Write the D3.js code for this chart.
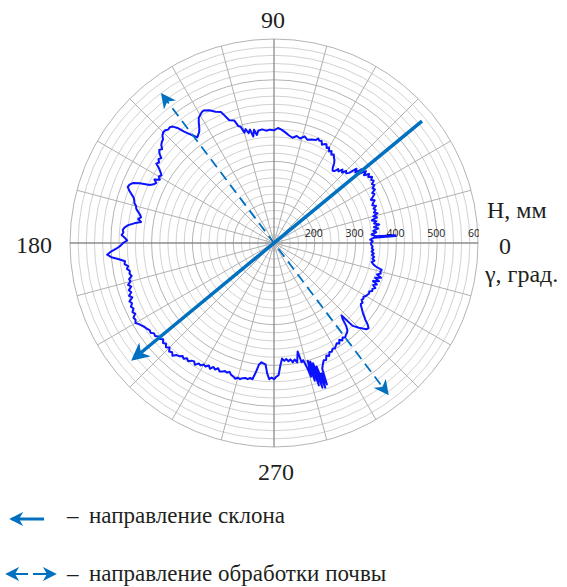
<!DOCTYPE html>
<html>
<head>
<meta charset="utf-8">
<script src="https://cdn.jsdelivr.net/npm/d3@7"></script>
<style>
  body { margin: 0; background: #fff; }
  svg { display: block; }
</style>
</head>
<body>
<div id="chart"></div>
<script>
// угол γ, град. и высота H, мм
const angles = [0,1,2,3,3.3,3.6,3.8,5,6,7,8,9,10,11,12,13,14,15,16,17,18,19,20,21,22,23,24,25,26,27,28,29,30,31,32,33,34,35,36,37,38,39,40,41,42,43,44,45,46,47,48,49,50,51,52,53,54,55,56,57,58,59,60,61,62,63,64,65,66,67,68,70,72,74,76,78,80,82,84,86,88,90,92,94,96,98,99,100,101,102,103,104,105,106,107,108,110,112,114,116,118,119,120,121,122,123,124,125,126,127,128,129,130,131,132,133,134,135,136,137,138,139,140,141,142,143,144,145,146,147,148,149,150,151,152,153,154,155,156,157,158,159,160,161,162,163,164,165,166,167,168,169,170,171,172,173,174,175,176,177,178,179,180,181,182,183,184,185,186,187,188,189,190,191,192,193,194,195,196,197,198,199,200,201,202,203,204,205,206,207,208,209,210,211,212,213,214,215,216,217,218,219,220,221,222,223,224,225,226,227,228,229,230,231,232,233,234,235,236,237,238,239,240,241,242,243,244,245,246,247,248,249,250,251,252,253,254,255,256,257,258,259,260,261,262,263,264,265,266,267,268,269,270,271,272,273,274,275,276,277,278,279,280,281,282.3,283,284,285,285.5,286,286.5,287,287.5,288,288.5,289,289.5,290,290.5,291,292,293,294,295,296,297,298,299,300,301,302,303,304,305,306,307,308,309,310,311,312,313,313.5,314,315,316,317,318,319,320,321,322,323,324,325,326,327,328,329,330,331,332,333,334,335,336,337,338,339,340,341,342,343,344,345,346,347,348,349,350,351,352,353,354,355,356,357,358,359];
const heights = [338,342,336,345,398,398,350,340,352,345,358,348,362,350,356,346,360,352,364,356,362,358,366,358,362,368,360,367,374,370,380,376,384,380,388,384,390,382,388,376,386,370,382,364,372,352,346,350,340,346,336,340,330,328,334,345,352,356,362,358,366,362,370,366,374,372,368,376,374,378,372,370,366,372,364,368,362,366,372,378,382,376,378,376,380,378,368,382,366,384,376,388,380,396,400,416,420,446,452,462,468,466,462,458,448,436,428,424,420,430,440,452,468,478,482,480,484,484,480,472,470,466,458,462,456,446,450,444,448,436,428,422,426,420,432,424,428,436,460,476,482,484,478,470,462,458,456,450,448,442,436,432,438,430,446,460,468,472,470,474,466,460,470,476,486,500,510,500,482,468,470,462,466,460,462,458,466,464,472,466,474,470,478,472,482,478,484,480,486,482,490,488,492,486,482,478,476,472,474,468,470,464,466,460,466,462,468,462,470,466,472,464,462,456,460,454,458,452,450,456,448,450,444,446,440,446,438,442,436,442,440,436,438,434,440,442,446,442,444,440,438,440,436,438,420,400,394,396,398,420,434,430,434,428,424,400,384,390,386,392,388,396,390,398,372,400,396,420,440,400,452,404,466,410,474,420,476,440,470,430,420,412,414,404,408,400,402,396,398,394,390,394,386,392,386,390,386,384,380,370,352,343,380,384,394,402,410,412,404,392,384,376,370,364,360,362,356,358,356,360,362,364,362,368,366,372,364,372,360,374,362,376,364,372,370,372,356,348,344,350,344,348,342,346,340,344,340,342,338];

const radialTicks = [200, 300, 400, 500, 600];
const axisLabels = ["0", "90", "180", "270"];

// направление склона и обработки почвы: [угол, H]
const slopeLine = [[39.5, 570], [219.5, 545]];
const tillLine = [[127, 553], [307, 560]];

const legendItems = ["направление склона", "направление обработки почвы"];

const width = 567, height = 587;
const cx = 274, cy = 243;
const R = 204;
const blue = "#0070c0";

const r = d3.scaleLinear().domain([100, 600]).range([0, R]);
const rad = a => a * Math.PI / 180;
const px = (a, h) => cx + r(h) * Math.cos(rad(a));
const py = (a, h) => cy - r(h) * Math.sin(rad(a));

const svg = d3.select("#chart").append("svg")
    .attr("width", width)
    .attr("height", height);

const defs = svg.append("defs");
defs.append("clipPath").attr("id", "plotClip")
    .append("rect").attr("x", 60).attr("y", 30).attr("width", 419).attr("height", 430);

function arrowMarker(id, size) {
    defs.append("marker")
        .attr("id", id)
        .attr("viewBox", "0 0 10 10")
        .attr("refX", 8).attr("refY", 5)
        .attr("markerWidth", size).attr("markerHeight", size)
        .attr("markerUnits", "userSpaceOnUse")
        .attr("orient", "auto-start-reverse")
        .append("path")
        .attr("d", "M0,0 L10,5 L0,10 L3,5 Z")
        .attr("fill", blue);
}
arrowMarker("arrowBig", 18);
arrowMarker("arrowDash", 15);
arrowMarker("arrowLeg", 14);

// сетка: окружности
const rings = d3.range(120, 601, 20);
svg.append("g").selectAll("circle")
    .data(rings)
    .enter()
    .append("circle")
    .attr("cx", cx).attr("cy", cy)
    .attr("r", d => r(d))
    .attr("fill", "none")
    .attr("stroke", d => d % 100 === 0 ? "#b4b4b4" : "#d2d2d2")
    .attr("stroke-width", 1);

// сетка: лучи через 15°
svg.append("g").selectAll("line")
    .data(d3.range(0, 360, 15))
    .enter()
    .append("line")
    .attr("x1", cx).attr("y1", cy)
    .attr("x2", d => px(d, 600))
    .attr("y2", d => py(d, 600))
    .attr("stroke", d => d % 90 === 0 ? "#8c8c8c" : "#b0b0b0")
    .attr("stroke-width", d => d % 90 === 0 ? 1.3 : 1);

// подписи радиальной оси
svg.append("g")
    .attr("clip-path", "url(#plotClip)")
    .selectAll("text")
    .data(radialTicks)
    .enter()
    .append("text")
    .attr("x", d => cx + r(d) - 1)
    .attr("y", cy - 6)
    .attr("text-anchor", "middle")
    .attr("font-family", "Open Sans, Liberation Sans, sans-serif")
    .attr("font-size", 10.5)
    .attr("fill", "#222")
    .text(d => d);

// кривая H(γ)
const points = angles.map((a, i) => ({ a: a, h: heights[i] }));
const line = d3.lineRadial()
    .angle(d => rad(90 - d.a))
    .radius(d => r(d.h))
    .curve(d3.curveLinearClosed);

svg.append("path")
    .attr("transform", `translate(${cx},${cy})`)
    .attr("d", line(points))
    .attr("fill", "none")
    .attr("stroke", "#0a12ff")
    .attr("stroke-width", 2)
    .attr("stroke-linejoin", "round");

// направление склона
svg.append("line")
    .attr("x1", px(slopeLine[0][0], slopeLine[0][1]))
    .attr("y1", py(slopeLine[0][0], slopeLine[0][1]))
    .attr("x2", px(slopeLine[1][0], slopeLine[1][1]))
    .attr("y2", py(slopeLine[1][0], slopeLine[1][1]))
    .attr("stroke", blue)
    .attr("stroke-width", 3.5)
    .attr("marker-end", "url(#arrowBig)");

// направление обработки почвы
svg.append("line")
    .attr("x1", px(tillLine[0][0], tillLine[0][1]))
    .attr("y1", py(tillLine[0][0], tillLine[0][1]))
    .attr("x2", px(tillLine[1][0], tillLine[1][1]))
    .attr("y2", py(tillLine[1][0], tillLine[1][1]))
    .attr("stroke", blue)
    .attr("stroke-width", 1.8)
    .attr("stroke-dasharray", "10,6")
    .attr("marker-start", "url(#arrowDash)")
    .attr("marker-end", "url(#arrowDash)");

// подписи углов
const serif = "'Liberation Serif', 'DejaVu Serif', serif";
const angleText = [
    { t: axisLabels[1], x: 273, y: 28, anchor: "middle" },
    { t: axisLabels[2], x: 34, y: 253, anchor: "middle" },
    { t: axisLabels[3], x: 276, y: 480, anchor: "middle" },
    { t: axisLabels[0], x: 505, y: 254, anchor: "middle" },
    { t: "Н, мм", x: 487, y: 218, anchor: "start" },
    { t: "γ, град.", x: 485, y: 282, anchor: "start" }
];
svg.append("g").selectAll("text")
    .data(angleText)
    .enter()
    .append("text")
    .attr("x", d => d.x).attr("y", d => d.y)
    .attr("text-anchor", d => d.anchor)
    .attr("font-family", serif)
    .attr("font-size", 24)
    .attr("fill", "#231f20")
    .text(d => d.t);

// легенда
const leg = svg.append("g");
leg.append("line")
    .attr("x1", 44).attr("y1", 519).attr("x2", 12).attr("y2", 519)
    .attr("stroke", blue).attr("stroke-width", 3)
    .attr("marker-end", "url(#arrowLeg)");
leg.append("line")
    .attr("x1", 28).attr("y1", 574).attr("x2", 8).attr("y2", 574)
    .attr("stroke", blue).attr("stroke-width", 2)
    .attr("marker-end", "url(#arrowLeg)");
leg.append("line")
    .attr("x1", 33).attr("y1", 574).attr("x2", 54).attr("y2", 574)
    .attr("stroke", blue).attr("stroke-width", 2)
    .attr("marker-end", "url(#arrowLeg)");

const legRows = leg.selectAll("g.row")
    .data(legendItems)
    .enter()
    .append("g")
    .attr("class", "row")
    .attr("transform", (d, i) => `translate(0,${523 + i * 58})`);

legRows.append("text")
    .attr("x", 67)
    .attr("font-family", serif)
    .attr("font-size", 23)
    .attr("fill", "#231f20")
    .text("–");

legRows.append("text")
    .attr("x", 89)
    .attr("font-family", serif)
    .attr("font-size", 23)
    .attr("fill", "#231f20")
    .text(d => d);
</script>
</body>
</html>
